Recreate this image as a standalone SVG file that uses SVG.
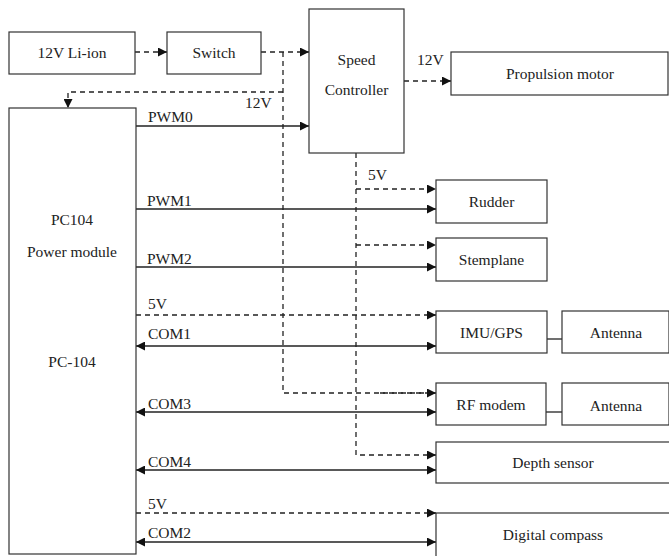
<svg xmlns="http://www.w3.org/2000/svg" width="669" height="556" viewBox="0 0 669 556">
<defs>
<marker id="ah" viewBox="0 0 10 10" refX="10" refY="5" markerWidth="9" markerHeight="9" markerUnits="userSpaceOnUse" orient="auto-start-reverse">
<path d="M0,0 L10,5 L0,10 Z" fill="#111"/>
</marker>
<style>
.box{fill:#fff;stroke:#333;stroke-width:1.2}
.t{font-size:15.5px;fill:#222}
.c{text-anchor:middle}
.s{fill:none;stroke:#222;stroke-width:1.3}
.d{fill:none;stroke:#222;stroke-width:1.3;stroke-dasharray:5,4}
.a{marker-end:url(#ah)}
.b{marker-start:url(#ah);marker-end:url(#ah)}
</style>
</defs>
<rect width="669" height="556" fill="#fff"/>
<g font-family="Liberation Serif, DejaVu Serif, serif">
<g id="connectors">
<path class="d a" d="M135,52 H167"/>
<path class="d a" d="M261,52 H309"/>
<path class="d" d="M283,52 V393 H436"/>
<path class="d a" d="M283,92 H68 V108"/>
<path class="s a" d="M136,126 H309"/>
<path class="d a" d="M404,81 H451"/>
<path class="d a" d="M356,153 V455 H436"/>
<path class="d a" d="M356,189 H436"/>
<path class="d a" d="M356,245 H436"/>
<path class="s a" d="M136,209 H436"/>
<path class="s a" d="M136,267 H436"/>
<path class="d a" d="M136,315 H436"/>
<path class="s b" d="M136,346 H436"/>
<path class="s" d="M547,339 H562"/>
<path class="d a" d="M380,393 H436"/>
<path class="s b" d="M136,412 H436"/>
<path class="s" d="M546,412 H562"/>
<path class="s b" d="M136,470 H436"/>
<path class="d a" d="M136,513 H436"/>
<path class="s b" d="M136,542 H436"/>
<text class="t" x="148" y="122">PWM0</text>
<text class="t" x="245" y="108">12V</text>
<text class="t" x="417" y="65">12V</text>
<text class="t" x="368" y="180">5V</text>
<text class="t" x="147" y="206">PWM1</text>
<text class="t" x="147" y="264">PWM2</text>
<text class="t" x="148" y="309">5V</text>
<text class="t" x="148" y="339">COM1</text>
<text class="t" x="148" y="409">COM3</text>
<text class="t" x="148" y="467">COM4</text>
<text class="t" x="148" y="509">5V</text>
<text class="t" x="148" y="538">COM2</text>
</g>

<g id="liion"><rect class="box" x="9" y="32" width="126" height="42"/><text class="t c" x="72" y="58">12V Li-ion</text></g>
<g id="switch"><rect class="box" x="167" y="32" width="94" height="42"/><text class="t c" x="214" y="58">Switch</text></g>
<g id="speed"><rect class="box" x="309" y="9" width="95" height="144"/><text class="t c" x="356.5" y="65">Speed</text><text class="t c" x="356.5" y="95">Controller</text></g>
<g id="propulsion"><rect class="box" x="451" y="52" width="217" height="43"/><text class="t c" x="560" y="79">Propulsion motor</text></g>
<g id="pc104"><rect class="box" x="9" y="108" width="127" height="446"/><text class="t c" x="72" y="225">PC104</text><text class="t c" x="72" y="257">Power module</text><text class="t c" x="72" y="367">PC-104</text></g>
<g id="rudder"><rect class="box" x="436" y="180" width="111" height="43"/><text class="t c" x="491.5" y="207">Rudder</text></g>
<g id="stemplane"><rect class="box" x="436" y="238" width="111" height="43"/><text class="t c" x="491.5" y="265">Stemplane</text></g>
<g id="imu"><rect class="box" x="436" y="311" width="111" height="42"/><text class="t c" x="491.5" y="338">IMU/GPS</text></g>
<g id="antenna1"><rect class="box" x="562" y="311" width="107" height="42"/><text class="t c" x="616" y="338">Antenna</text></g>
<g id="rfmodem"><rect class="box" x="436" y="383" width="110" height="42"/><text class="t c" x="491" y="410">RF modem</text></g>
<g id="antenna2"><rect class="box" x="562" y="383" width="107" height="42"/><text class="t c" x="616" y="411">Antenna</text></g>
<g id="depth"><rect class="box" x="436" y="442" width="234" height="41"/><text class="t c" x="553" y="468">Depth sensor</text></g>
<g id="compass"><rect class="box" x="436" y="513" width="234" height="50"/><text class="t c" x="553" y="540">Digital compass</text></g>
</g>
</svg>
